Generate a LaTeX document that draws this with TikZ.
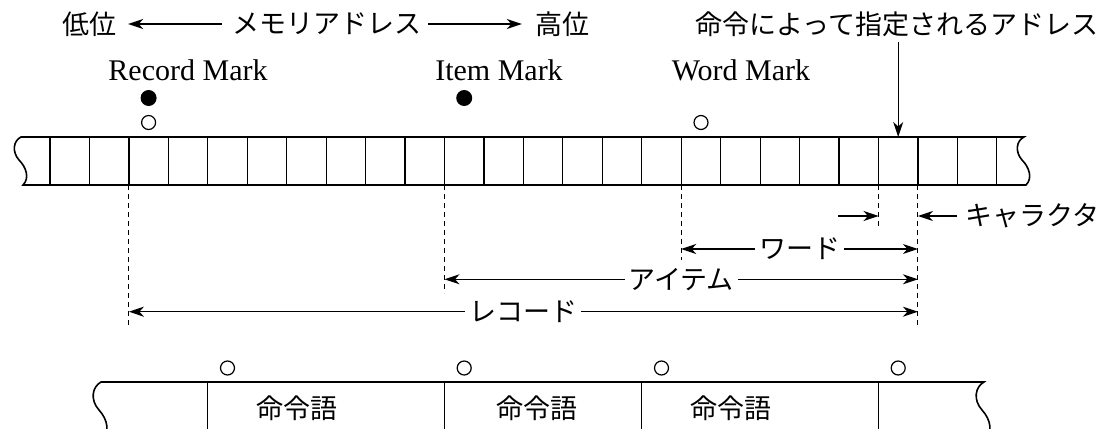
\documentclass[tikz,border=0pt]{standalone}
\usepackage{fontspec}
\setmainfont{Liberation Serif}
\newfontfamily\jp{Noto Sans CJK JP}
\usetikzlibrary{arrows.meta}
\begin{document}
\begin{tikzpicture}[x=1pt,y=-1pt,
  tape/.style={line width=1.6pt},
  cell/.style={line width=1.2pt},
  guide/.style={line width=1.1pt, dash pattern=on 5pt off 4pt},
  tip/.tip={Stealth[length=15pt,width=10pt,inset=4.5pt]},
  arr/.style={line width=1.2pt, -tip},
  darr/.style={line width=1.2pt, tip-tip},
  jtext/.style={font=\jp\fontsize{27}{30}\selectfont, inner sep=0pt},
  ltext/.style={font=\fontsize{30}{33}\selectfont, inner sep=0pt},
  lbl/.style={jtext, fill=white, inner xsep=4pt, inner ysep=2pt},
  dotfill/.style={circle, fill=black, minimum size=16pt, inner sep=0pt},
  dotopen/.style={circle, draw, line width=1.2pt, minimum size=14pt, inner sep=0pt},
]
\useasboundingbox (0,0) rectangle (1107,428);
\clip (0,0) rectangle (1107,428);

% top row
\node[jtext] (low) at (89,24) {低位};
\node[jtext] (mem) at (326.5,24) {メモリアドレス};
\node[jtext] (high) at (562.5,24) {高位};
\draw[arr] ([xshift=-10pt]mem.west) -- ([xshift=12pt]low.east);
\draw[arr] ([xshift=7pt]mem.east) -- ([xshift=-13.5pt]high.west);

\node[jtext] (addr) at (897,24) {命令によって指定されるアドレス};
\coordinate (tapeA) at (898.2,137);
\draw[arr] ([yshift=-5pt]addr.south -| tapeA) -- (tapeA);

% mark labels
\node[ltext, anchor=base] (rm) at (188,81) {Record Mark};
\node[ltext, anchor=base] (im) at (499,81) {Item Mark};
\node[ltext, anchor=base] (wm) at (741,81) {Word Mark};

\node[dotfill] (rmf) at (148.6,98) {};
\node[dotopen] (rmo) at (148.6,122.5) {};
\node[dotfill] (imf) at (464.2,98) {};
\node[dotopen] (wmo) at (701,122.5) {};

% upper tape
\draw[tape] (21,137) -- (1024,137)
  .. controls (1016,141) and (1015,152) .. (1022,160)
  .. controls (1029,167) and (1033,178) .. (1026,185)
  -- (23,185)
  .. controls (30,178) and (26,167) .. (19,160)
  .. controls (12,152) and (13,141) .. (21,137) -- cycle;
\foreach \k in {0,...,24} \draw[cell] ({50+39.45*\k},137) -- ({50+39.45*\k},185);

% guides
\coordinate (gR) at (128.9,185);
\coordinate (gI) at (444.5,185);
\coordinate (gW) at (681.2,185);
\coordinate (gC1) at (878.5,185);
\coordinate (gC2) at (917.9,185);
\draw[guide] (gR) -- ++(0,140);
\draw[guide] (gI) -- ++(0,108);
\draw[guide] (gW) -- ++(0,75);
\draw[guide] (gC1) -- ++(0,42);
\draw[guide] (gC2) -- ++(0,140);

% character
\coordinate (cLs) at (838,216);
\coordinate (cL) at (878.5,216);
\coordinate (cRs) at (957,216);
\coordinate (cR) at (917.9,216);
\draw[arr] (cLs) -- (cL);
\draw[arr] (cRs) -- (cR);
\node[jtext, anchor=west] (chr) at (965,216) {キャラクタ};

% word, item, record
\coordinate (wL) at (681.2,249);
\coordinate (wR) at (917.9,249);
\draw[darr] (wL) -- node[lbl] (wlab) {ワード} (wR);
\coordinate (iL) at (444.5,279.3);
\coordinate (iR) at (917.9,279.3);
\draw[darr] (iL) -- node[lbl] (ilab) {アイテム} (iR);
\coordinate (rL) at (128.9,311.7);
\coordinate (rR) at (917.9,311.7);
\draw[darr] (rL) -- node[lbl] (rlab) {レコード} (rR);

% lower tape
\draw[tape] (102,442)
  .. controls (110,432) and (108,420) .. (99,410)
  .. controls (90,400) and (92,387) .. (101,382)
  -- (984,382)
  .. controls (975,387) and (973,400) .. (982,410)
  .. controls (991,420) and (993,432) .. (985,442);
\foreach \x in {207.8,444.5,641.8,878.5} \draw[cell] (\x,382) -- (\x,432);
\foreach \x/\n in {227.5/a,464.2/b,661.5/c,898.2/d} \node[dotopen] (bo\n) at (\x,368) {};
\node[jtext] (w1) at (297,408) {命令語};
\node[jtext] (w2) at (537,408) {命令語};
\node[jtext] (w3) at (731,408) {命令語};
\end{tikzpicture}
\end{document}
